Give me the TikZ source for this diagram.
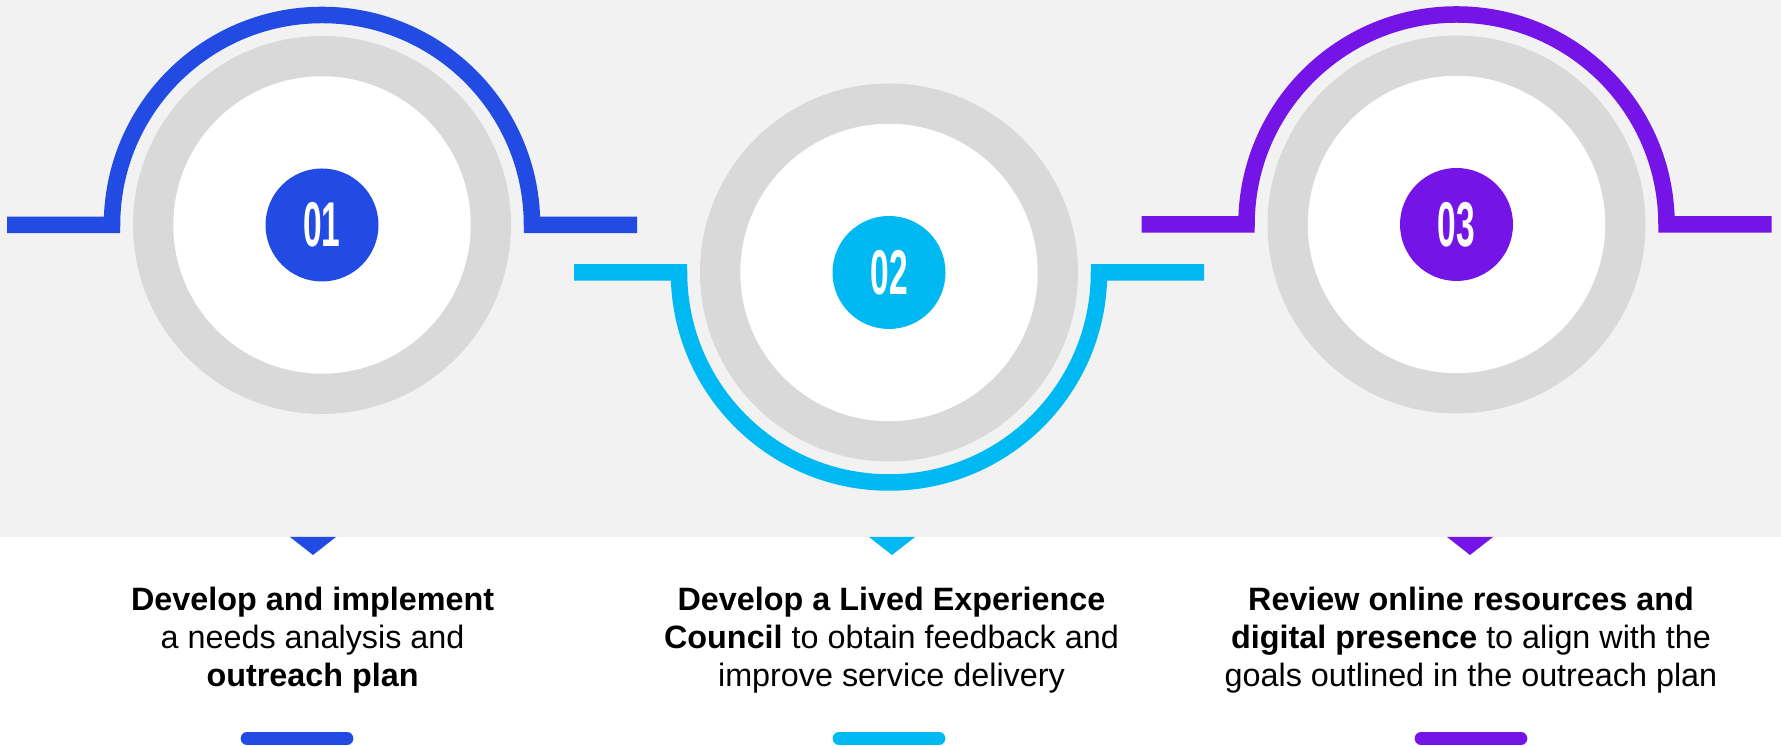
\documentclass[tikz,border=0pt]{standalone}
\usepackage{fontspec}
\setmainfont{Liberation Sans}
\usetikzlibrary{shapes}
\definecolor{bggray}{HTML}{F2F2F2}
\definecolor{ringgray}{HTML}{D9D9D9}
\definecolor{stepblue}{RGB}{33,75,226}
\definecolor{stepcyan}{RGB}{0,185,242}
\definecolor{steppurple}{RGB}{117,20,230}
\begin{document}
\begin{tikzpicture}[
 ring node/.style={circle,fill=ringgray,minimum size=3.78cm,inner sep=0},
 hole node/.style={circle,fill=white,minimum size=2.974cm,inner sep=0},
 num node/.style={circle,minimum size=1.13cm,inner sep=0,text=white,
   font=\fontsize{18}{18}\selectfont\bfseries},
 step text/.style={anchor=north,align=center,inner sep=0,
   font=\fontsize{9.2}{10.9}\selectfont}]
 \useasboundingbox (0,0) rectangle (17.81,7.46);
 \fill[bggray] (0,2.09) rectangle (17.81,7.46);

 \foreach \n/\x/\y/\c/\e in {01/3.22/5.21/stepblue/0, 02/8.89/4.735/stepcyan/360,
     03/14.565/5.215/steppurple/0}{
   \node[ring node](r\n) at (\x,\y){};
   \node[hole node](h\n) at (r\n){};
   \node[num node,fill=\c](n\n) at (r\n){\scalebox{0.53}[1]{\n}};
   \draw[line width=4.7pt,draw=\c] ([xshift=-3.15cm]r\n.center) -- ++(1.05,0)
     arc (180:\e:2.1) -- ++(1.05,0);}

 \foreach \t/\c in {3.13/stepblue, 8.92/stepcyan, 14.70/steppurple}{
   \fill[\c] (\t-0.23,2.09) -- (\t+0.23,2.09) -- (\t,1.91) -- cycle;}

 \node[step text](t01) at (3.126,1.60){\textbf{Develop and implement}\\
   a needs analysis and\\ \textbf{outreach plan}};
 \node[step text](t02) at (8.915,1.60){\textbf{Develop a Lived Experience}\\
   \textbf{Council} to obtain feedback and\\ improve service delivery};
 \node[step text](t03) at (14.71,1.60){\textbf{Review online resources and}\\
   \textbf{digital presence} to align with the\\ goals outlined in the outreach plan};

 \foreach \p/\c in {2.97/stepblue, 8.89/stepcyan, 14.71/steppurple}{
   \draw[line width=0.127cm,line cap=round,\c] ({\p-0.5},0.075) -- ({\p+0.5},0.075);}
\end{tikzpicture}
\end{document}
